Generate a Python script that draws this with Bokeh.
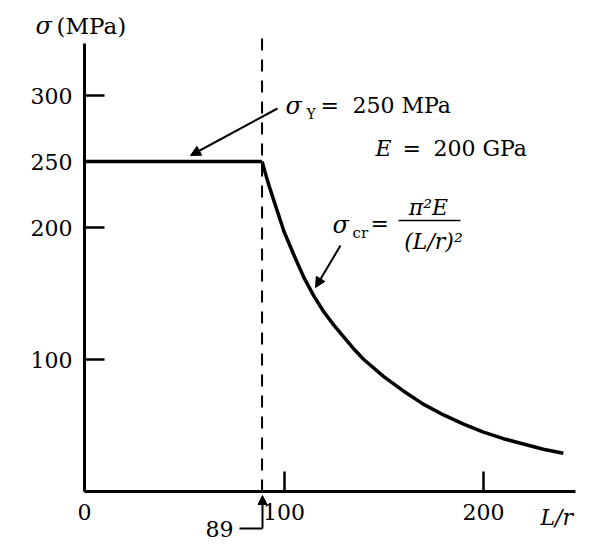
from bokeh.plotting import figure
from bokeh.models import Label, Arrow, NormalHead, FixedTicker, Range1d
from bokeh.embed import file_html
from bokeh.resources import INLINE

# ---- data ----
yield_lr = [0, 89]
yield_stress = [250, 250]
euler_lr = [89, 92, 95, 100, 105, 110, 115, 120, 125, 130, 135, 140, 150, 160,
            170, 180, 190, 200, 210, 220, 230, 240]
euler_stress = [250, 234, 220, 197, 179, 162, 148, 136, 126, 117, 108, 100, 87, 76,
                66, 58, 51, 45, 40, 36, 32, 29]
x_ticks = [0, 100, 200]
y_ticks = [100, 200, 250, 300]
critical_lr = 89
x_axis_end = 246
y_axis_end = 339.5
dash_top = 344

SERIF = "DejaVu Serif"
W, H = 586, 540
X0, Y0 = 84, 491          # canvas position of the origin
SX, SY = 1.995, 1.32      # pixels per unit

p = figure(width=W, height=H,
           x_range=Range1d(-X0 / SX, (W - X0) / SX),
           y_range=Range1d((Y0 - H) / SY, Y0 / SY),
           output_backend="svg", toolbar_location=None,
           min_border=0)
p.outline_line_color = None
p.grid.visible = False
p.background_fill_color = "white"

p.xaxis.fixed_location = 0
p.yaxis.fixed_location = 0
p.xaxis.bounds = (0, x_axis_end)
p.yaxis.bounds = (0, y_axis_end)

for ax in (p.xaxis[0], p.yaxis[0]):
    ax.axis_line_width = 3
    ax.axis_line_color = "black"
    ax.major_tick_in = 20
    ax.major_tick_out = 0
    ax.major_tick_line_width = 2.5
    ax.major_tick_line_color = "black"
    ax.minor_tick_line_color = None
    ax.major_label_text_font = SERIF
    ax.major_label_text_font_size = "22px"
    ax.major_label_text_color = "black"
    ax.major_label_standoff = 12

p.xaxis.ticker = FixedTicker(ticks=x_ticks)
p.yaxis.ticker = FixedTicker(ticks=y_ticks)

# dashed line at critical slenderness
p.add_layout(Arrow(end=None, x_start=critical_lr, y_start=0, x_end=critical_lr, y_end=dash_top,
                   line_width=2, line_color="black", line_dash="12 9"))

# yield plateau and Euler curve
p.line(yield_lr, yield_stress, line_width=3.5, color="black", line_join="round")
p.line(euler_lr, euler_stress, line_width=3.5, color="black", line_join="round")


def lab(x, y, text, size="22px", style="normal", align="left"):
    # x, y: canvas pixels measured from the top-left corner
    p.add_layout(Label(x=x, y=y, x_units="canvas", y_units="canvas",
                       text=text, text_font=SERIF, text_font_size=size,
                       text_font_style=style, text_baseline="middle", text_align=align,
                       text_color="black"))


def seg(x0, y0, x1, y1, width=2, head=None):
    p.add_layout(Arrow(end=head, x_start=x0, y_start=y0, x_end=x1, y_end=y1,
                       start_units="canvas", end_units="canvas",
                       line_width=width, line_color="black"))


def head(size=10):
    return NormalHead(size=size, fill_color="black", line_color="black", line_width=1)


# axis titles
lab(35, 25, "σ", size="24px", style="italic")
lab(56, 25, "(MPa)", size="23px")
lab(540, 517, "L/r", size="22px", style="italic")

# 89 marker
lab(233, 528, "89", align="right")
seg(239, 528, 262, 528)
seg(262, 528, 262, 495, head=head(9))

# sigma_Y annotation
lab(285, 105, "σ", size="24px", style="italic")
lab(306, 113, "Y", size="14px")
lab(320, 105, "=")
lab(352, 105, "250 MPa")
seg(277, 108, 190, 155, head=head(10))

# E annotation
lab(375, 148, "E", style="italic")
lab(402, 148, "=")
lab(433, 148, "200 GPa")

# sigma_cr annotation
lab(332, 224, "σ", size="24px", style="italic")
lab(352, 232, "cr", size="15px")
lab(370, 223, "=")
lab(428, 207, "π²E", style="italic", align="center")
seg(398, 220, 460, 220, width=1.5)
lab(433, 241, "(L/r)²", style="italic", align="center")
seg(340, 245, 315, 287, head=head(10))

open("out.html", "w").write(file_html(p, INLINE))
